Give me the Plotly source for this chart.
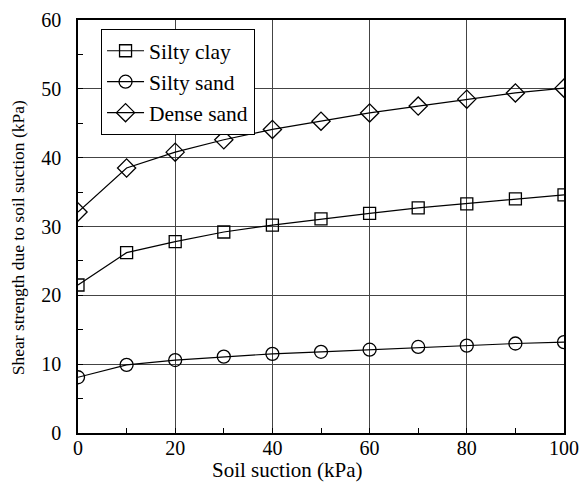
import plotly.graph_objects as go

suction = [0, 10, 20, 30, 40, 50, 60, 70, 80, 90, 100]
silty_clay = [21.5, 26.2, 27.8, 29.2, 30.2, 31.1, 31.9, 32.7, 33.3, 34.0, 34.6]
silty_sand = [8.1, 9.9, 10.6, 11.1, 11.5, 11.8, 12.1, 12.5, 12.7, 13.0, 13.2]
dense_sand = [32.1, 38.5, 40.8, 42.6, 44.1, 45.3, 46.5, 47.5, 48.5, 49.4, 50.1]

series = [
    ("Silty clay", silty_clay, "square-open", 12),
    ("Silty sand", silty_sand, "circle-open", 13),
    ("Dense sand", dense_sand, "diamond-open", 14),
]

SERIF = "Liberation Serif"

fig = go.Figure()
for name, vals, sym, sz in series:
    fig.add_trace(go.Scatter(
        x=suction, y=vals, name=name, mode="lines+markers",
        line=dict(color="black", width=1.2),
        marker=dict(symbol=sym, size=sz, color="black",
                    line=dict(color="black", width=1.3)),
    ))

tick_font = dict(family=SERIF, size=20, color="black")

axis_common = dict(
    showline=True, linecolor="black", linewidth=1.5, mirror=True,
    showgrid=True, gridcolor="#444444", gridwidth=1,
    ticks="inside", ticklen=5, tickcolor="black",
    zeroline=False, tickfont=tick_font, automargin=False,
)

fig.update_xaxes(
    range=[0, 100], tickvals=[0, 20, 40, 60, 80, 100],
    ticklabelstandoff=-4,
    minor=dict(tickvals=[10, 30, 50, 70, 90], ticks="inside", ticklen=5,
               tickcolor="black", showgrid=False),
    **axis_common,
)
fig.update_yaxes(
    range=[0, 60], tickvals=[0, 10, 20, 30, 40, 50, 60],
    ticklabelstandoff=11,
    minor=dict(tickvals=[5, 15, 25, 35, 45, 55], ticks="inside", ticklen=5,
               tickcolor="black", showgrid=False),
    **axis_common,
)

# axis titles
fig.add_annotation(
    text="Soil suction (kPa)", xref="paper", yref="paper",
    x=0.432, y=-0.09, xanchor="center", yanchor="middle",
    showarrow=False, font=dict(family=SERIF, size=21, color="black"),
)
fig.add_annotation(
    text="Shear strength due to soil suction (kPa)", xref="paper", yref="paper",
    x=-0.123, y=0.472, xanchor="center", yanchor="middle", textangle=-90,
    showarrow=False, font=dict(family=SERIF, size=17.5, color="black"),
)

fig.update_layout(
    width=582, height=492,
    margin=dict(l=78, r=18, t=20, b=59),
    plot_bgcolor="white", paper_bgcolor="white",
    font=tick_font,
    legend=dict(
        x=0.047, y=0.978, xanchor="left", yanchor="top",
        bgcolor="white", bordercolor="black", borderwidth=1.2,
        font=dict(family=SERIF, size=21.5, color="black"),
        itemwidth=37, tracegroupgap=0,
    ),
    showlegend=True,
)

fig.write_html("out.html")
